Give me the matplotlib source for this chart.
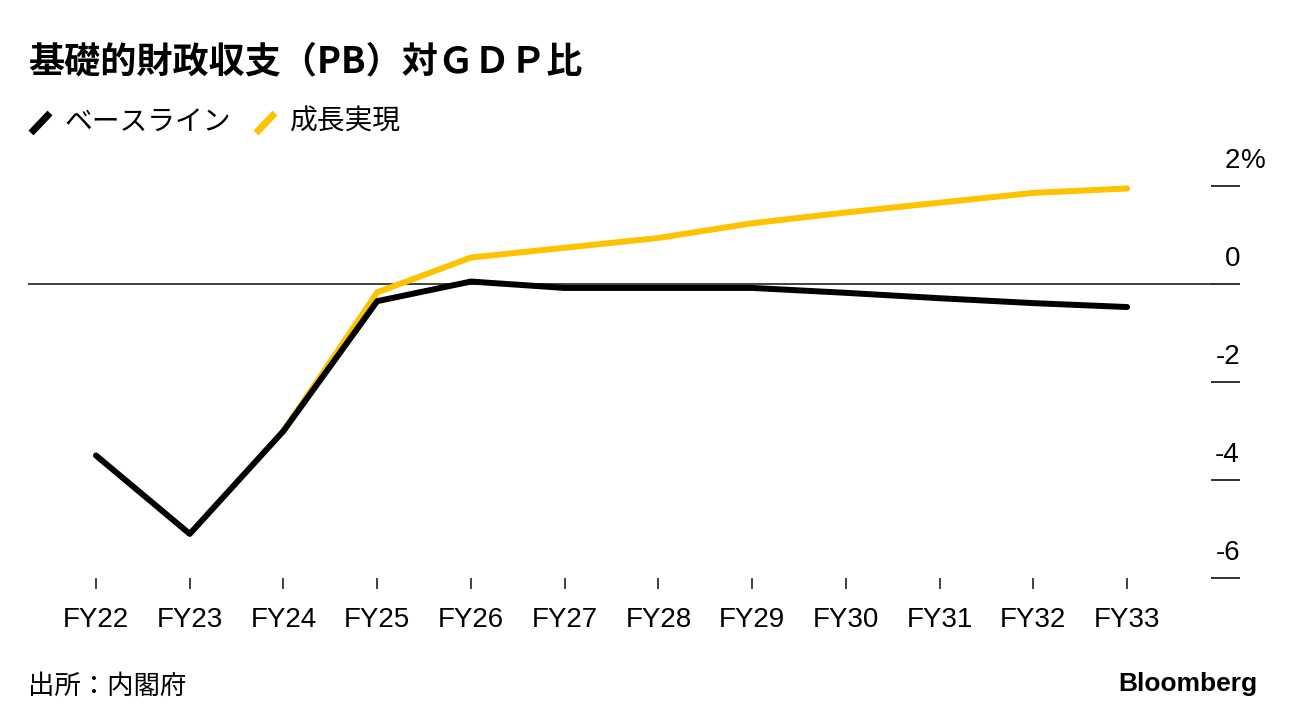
import matplotlib
matplotlib.use('Agg')
import matplotlib.pyplot as plt
from matplotlib.lines import Line2D

plt.rcParams['font.family'] = ['Liberation Sans', 'Noto Sans CJK JP', 'DejaVu Sans']

# Data
years = ['FY22', 'FY23', 'FY24', 'FY25', 'FY26', 'FY27', 'FY28', 'FY29',
         'FY30', 'FY31', 'FY32', 'FY33']
baseline = [-3.5, -5.1, -3.0, -0.35, 0.05, -0.08, -0.08, -0.08, -0.18, -0.29, -0.39, -0.47]
growth_years = years[2:]
growth = [-3.0, -0.17, 0.54, 0.74, 0.94, 1.24, 1.46, 1.66, 1.86, 1.95]
yticks = [2, 0, -2, -4, -6]

BLACK = '#000000'
YELLOW = '#FDC200'

W, H = 1296, 728
fig = plt.figure(figsize=(W / 100, H / 100), dpi=100)

# axes: pixel box x 28..1240, y 150..578
ax = fig.add_axes([28 / W, 1 - 578 / H, (1240 - 28) / W, (578 - 150) / H])
x_base = list(range(len(years)))
x_growth = [years.index(y) for y in growth_years]

ax.axhline(0, xmin=0, xmax=0.976, color='#333333', lw=1.3, zorder=1)
ax.plot(x_growth, growth, color=YELLOW, lw=4.3, solid_capstyle='round',
        solid_joinstyle='round', zorder=2)
ax.plot(x_base, baseline, color=BLACK, lw=4.3, solid_capstyle='round',
        solid_joinstyle='round', zorder=3)

ax.set_xlim(-0.7255, 12.205)
ax.set_ylim(-6, 2.735)

for s in ax.spines.values():
    s.set_visible(False)

ax.set_xticks(x_base)
ax.set_xticklabels(years, fontsize=20)
ax.tick_params(axis='x', length=8, width=1.2, color='#222222', pad=13)
ax.set_yticks([])

# right-side y ticks: short line with label above it
ytr = ax.get_yaxis_transform()
ax.hlines(yticks, 0.976, 1.0, transform=ytr, color='#222222', lw=1.3, clip_on=False)
for v in yticks:
    ax.annotate(str(v), xy=(1.0, v), xycoords=ytr, xytext=(0, 9),
                textcoords='offset points', ha='right', va='bottom', fontsize=20)
ax.annotate('%', xy=(1.0, 2), xycoords=ytr, xytext=(1, 9),
            textcoords='offset points', ha='left', va='bottom', fontsize=20)

# title
fig.text(28 / W, 1 - 62 / H, '基礎的財政収支（PB）対ＧＤＰ比', fontsize=26,
         fontweight='bold', family=['Noto Sans CJK JP'], ha='left', va='center')

# legend
fig.add_artist(Line2D([31 / W, 50 / W], [1 - 133 / H, 1 - 113 / H], color=BLACK,
                      lw=5, solid_capstyle='butt', transform=fig.transFigure))
fig.text(65 / W, 1 - 122 / H, 'ベースライン', fontsize=20,
         family=['Noto Sans CJK JP'], ha='left', va='center')
fig.add_artist(Line2D([256 / W, 275 / W], [1 - 133 / H, 1 - 113 / H], color=YELLOW,
                      lw=5, solid_capstyle='butt', transform=fig.transFigure))
fig.text(290 / W, 1 - 122 / H, '成長実現', fontsize=20,
         family=['Noto Sans CJK JP'], ha='left', va='center')

# footer
fig.text(28 / W, 1 - 686 / H, '出所：内閣府', fontsize=19,
         family=['Noto Sans CJK JP'], ha='left', va='center')
fig.text(1257 / W, 1 - 684 / H, 'Bloomberg', fontsize=19, fontweight='bold',
         ha='right', va='center')

fig.savefig('out.png', dpi=100)
